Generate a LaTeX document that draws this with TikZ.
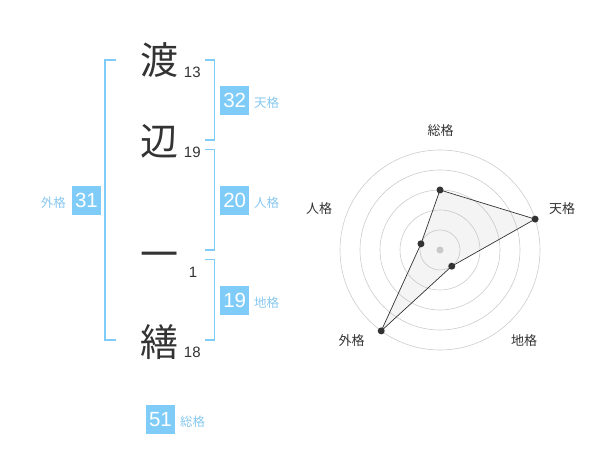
\documentclass[tikz,border=0pt]{standalone}
\usepackage{fontspec}
\setmainfont{Liberation Sans}
\newfontfamily\cjk{Noto Sans CJK JP}
\definecolor{bluebox}{HTML}{80CCF8}
\definecolor{bluetxt}{HTML}{88C8F0}
\definecolor{inkdark}{HTML}{333333}
\definecolor{ringgray}{HTML}{CCCCCC}
\tikzset{
  bigchar/.style={inner sep=0pt, text=inkdark, font=\cjk\fontsize{38}{38}\selectfont},
  strokes/.style={inner sep=0pt, text=inkdark, font=\fontsize{15}{15}\selectfont},
  valbox/.style={fill=bluebox, text=white, minimum width=29pt, minimum height=29pt, inner sep=0pt, font=\fontsize{20.5}{20.5}\selectfont},
  kakulbl/.style={inner sep=0pt, text=bluetxt, font=\cjk\fontsize{12.5}{12.5}\selectfont},
  bracket/.style={draw=bluebox, line width=1.6pt},
  ring/.style={draw=ringgray, line width=0.6pt},
  radlbl/.style={inner sep=0pt, text=inkdark, font=\cjk\fontsize{13}{13}\selectfont},
  dot/.style={circle, fill=inkdark, inner sep=0pt, minimum size=7pt},
}
\begin{document}
\begin{tikzpicture}[x=1pt,y=-1pt]
\useasboundingbox (0,0) rectangle (600,470);
% characters
\node[bigchar] (c1) at (159.5,60) {渡};
\node[strokes] (n1) at (192.3,72.7) {13};
\node[bigchar] (c2) at (159.5,141.7) {辺};
\node[strokes] (n2) at (192.3,152.7) {19};
\node[bigchar] (c3) at (159.5,260) {一};
\node[strokes] (n3) at (193,272.7) {1};
\node[bigchar] (c4) at (159.5,341.7) {繕};
\node[strokes] (n4) at (192.3,352.7) {18};
% brackets
\draw[bracket] (116,60) -- (105,60) -- (105,340) -- (116,340);
\draw[bracket] (205,60) -- (214.5,60) -- (214.5,140) -- (205,140);
\draw[bracket] (205,149.5) -- (214.5,149.5) -- (214.5,250) -- (205,250);
\draw[bracket] (205,259.5) -- (214.5,259.5) -- (214.5,340) -- (205,340);
% boxes
\node[valbox] (ten) at (234.7,100.3) {32};
\node[kakulbl, anchor=west] (tenl) at (254,102.5) {天格};
\node[valbox] (jin) at (234.7,200.3) {20};
\node[kakulbl, anchor=west] (jinl) at (254,202.5) {人格};
\node[valbox] (chi) at (234.7,300.3) {19};
\node[kakulbl, anchor=west] (chil) at (254,302.5) {地格};
\node[valbox] (gai) at (86.5,200.3) {31};
\node[kakulbl, anchor=east] (gail) at (66,202.5) {外格};
\node[valbox] (sou) at (160.5,419.2) {51};
\node[kakulbl, anchor=west] (soul) at (180,421.5) {総格};
% radar
\begin{scope}[shift={(440,250)}]
  \foreach \r in {20,40,60,80,100} \draw[ring] (0,0) circle (\r);
  \fill[ringgray] (0,0) circle (3.5);
  \coordinate (ps) at (-90:60);
  \coordinate (pt) at (-18:100);
  \coordinate (pc) at (54:20);
  \coordinate (pg) at (126:100);
  \coordinate (pj) at (198:20);
  \draw[fill=gray!60, fill opacity=0.15, draw=inkdark, line width=0.7pt] (ps) -- (pt) -- (pc) -- (pg) -- (pj) -- cycle;
  \foreach \p in {ps,pt,pc,pg,pj} \node[dot] at (\p) {};
  \node[radlbl] (ls) at (0.7,-119.3) {総格};
  \node[radlbl] (lt) at (122,-41.3) {天格};
  \node[radlbl] (lj) at (-121,-41.3) {人格};
  \node[radlbl] (lg) at (-88.3,91) {外格};
  \node[radlbl] (lc) at (84,91) {地格};
\end{scope}
\end{tikzpicture}
\end{document}
